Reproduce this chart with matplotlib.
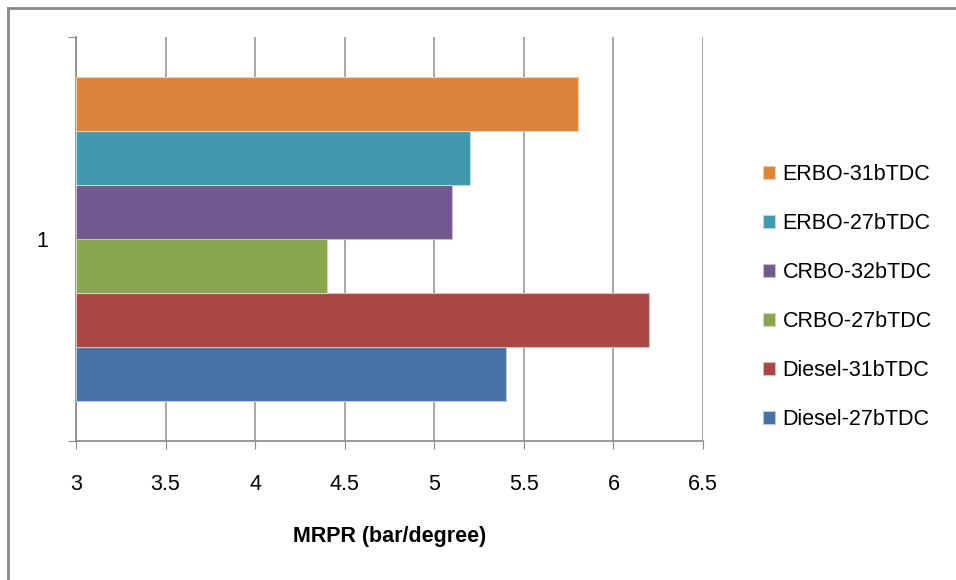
import matplotlib
matplotlib.use("Agg")
import matplotlib.pyplot as plt
from matplotlib.lines import Line2D

series = ["Diesel-27bTDC", "Diesel-31bTDC", "CRBO-27bTDC", "CRBO-32bTDC", "ERBO-27bTDC", "ERBO-31bTDC"]
values = [5.4, 6.2, 4.4, 5.1, 5.2, 5.8]
colors = ["#4572A7", "#AA4643", "#89A54E", "#71588F", "#4198AF", "#DB843D"]
edge_colors = ["#B9C8DF", "#DDB9B8", "#D0DCBE", "#C6BCD3", "#B6D8E2", "#F2CBA9"]
category = [1]
xticks = [3, 3.5, 4, 4.5, 5, 5.5, 6, 6.5]

plt.rcParams['font.family'] = ['Liberation Sans', 'DejaVu Sans']

fig = plt.figure(figsize=(9.56, 5.8), dpi=100)
ax = fig.add_axes([76/956, 139/580, 627/956, 404/580])

h = 54/404
n = len(series)
for i, (s, v, c, ec) in enumerate(zip(series, values, colors, edge_colors)):
    off = (i - (n - 1) / 2) * h
    ax.barh(category[0] + off, v - 3, left=3, height=h, color=c,
            edgecolor=ec, linewidth=0.8, label=s, zorder=3)

ax.set_xlim(3, 6.5)
ax.set_ylim(0.5, 1.5)
ax.set_xticks(xticks)
ax.set_xticklabels([f"{t:g}" for t in xticks], fontsize=15.5)
ax.set_yticks([0.5, 1.5], minor=False)
ax.set_yticklabels([])
ax.set_yticks([1.0], minor=True)
ax.set_yticklabels(["1"], minor=True, fontsize=15.5)
ax.tick_params(axis='y', which='minor', length=0, pad=20)
ax.tick_params(axis='y', which='major', length=6, color='#888888', direction='out')
ax.tick_params(axis='x', length=6, color='#888888', direction='out', pad=18)
ax.grid(axis='x', color='#999999', linewidth=1.2, zorder=0)
for sp in ['top', 'right']:
    ax.spines[sp].set_visible(False)
for sp in ['left', 'bottom']:
    ax.spines[sp].set_color('#888888')
    ax.spines[sp].set_linewidth(1.2)
ax.set_xlabel("MRPR (bar/degree)", fontsize=15.5, fontweight='bold', labelpad=22)

handles, labels = ax.get_legend_handles_labels()
leg = fig.legend(handles[::-1], labels[::-1], loc='center left',
                 bbox_to_anchor=(744/956, 1 - 297/580), frameon=False,
                 fontsize=15.5, handlelength=0.55, handleheight=0.55,
                 handletextpad=0.35, labelspacing=1.3)

fig.add_artist(Line2D([8/956, 8/956], [0, 1 - 8/580], transform=fig.transFigure,
                      color='#888888', linewidth=2))
fig.add_artist(Line2D([8/956, 1], [1 - 8/580, 1 - 8/580], transform=fig.transFigure,
                      color='#888888', linewidth=2))

fig.savefig("out.png", dpi=100)
